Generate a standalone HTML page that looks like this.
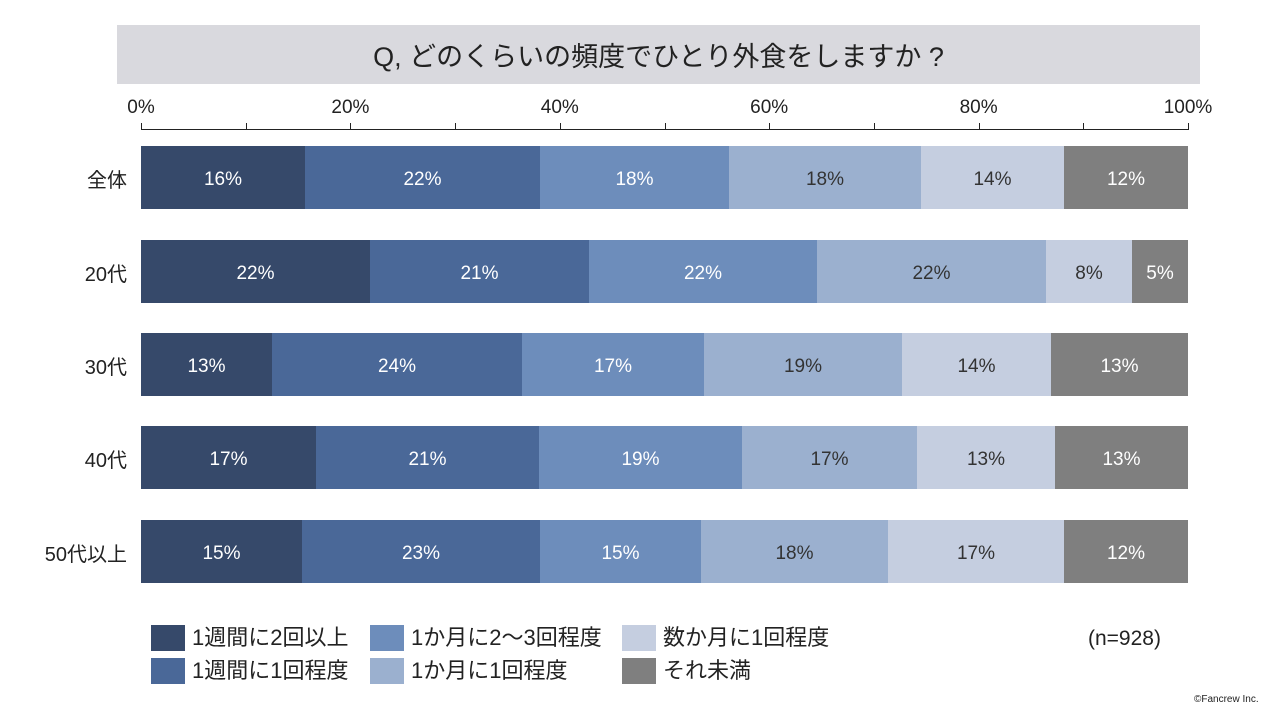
<!DOCTYPE html><html><head><meta charset="utf-8"><style>
body{margin:0;width:1281px;height:720px;background:#fff;position:relative;overflow:hidden;font-family:"Liberation Sans","Noto Sans CJK JP",sans-serif;color:#222}
div{position:absolute}
.s{display:flex;align-items:center;justify-content:center;font-size:19px;height:100%;top:0;padding-top:5px;box-sizing:border-box}
.w{color:#fff}.d{color:#333}
.lab{font-size:20px;text-align:right;width:110px;left:17px}
.tk{top:123px;width:1px;height:7px;background:#222}
.tl{top:97px;font-size:19px;width:80px;text-align:center}
.sq{width:34px;height:26px}
.lt{font-size:22px;line-height:26px}
</style></head><body>
<div style="left:117px;top:25px;width:1083px;height:59px;background:#d9d9de;font-size:27px;display:flex;align-items:center;justify-content:center">Q, どのくらいの頻度でひとり外食をしますか ?</div>
<div style="left:141px;top:129px;width:1047px;height:1px;background:#222"></div>
<div id="ax"></div>
<script>
var ax='';for(var i=0;i<=10;i++){var x=141+i*104.7;ax+='<div class="tk" style="left:'+x+'px"></div>';if(i%2==0)ax+='<div class="tl" style="left:'+(x-40)+'px">'+(i*10)+'%</div>';}
var c=['#36496a','#4a6898','#6d8dbb','#9bb0cf','#c5cee0','#7f7f7f'],tc=['w','w','w','d','d','w'];
var rows=[['全体',146,[141,305,540,729,921,1064,1188],[16,22,18,18,14,12]],['20代',240,[141,370,589,817,1046,1132,1188],[22,21,22,22,8,5]],['30代',333,[141,272,522,704,902,1051,1188],[13,24,17,19,14,13]],['40代',426,[141,316,539,742,917,1055,1188],[17,21,19,17,13,13]],['50代以上',520,[141,302,540,701,888,1064,1188],[15,23,15,18,17,12]]];
rows.forEach(function(r){ax+='<div class="lab" style="top:'+(r[1]+18)+'px">'+r[0]+'</div><div style="left:0;top:'+r[1]+'px;height:63px;width:1281px">';for(var j=0;j<6;j++){ax+='<div class="s '+tc[j]+'" style="left:'+r[2][j]+'px;width:'+(r[2][j+1]-r[2][j])+'px;background:'+c[j]+'">'+r[3][j]+'%</div>';}ax+='</div>';});
var lg=[['1週間に2回以上',151,625],['1週間に1回程度',151,658],['1か月に2～3回程度',370,625],['1か月に1回程度',370,658],['数か月に1回程度',622,625],['それ未満',622,658]];
lg.forEach(function(l,k){ax+='<div class="sq" style="left:'+l[1]+'px;top:'+l[2]+'px;background:'+c[k]+'"></div><div class="lt" style="left:'+(l[1]+41)+'px;top:'+l[2]+'px">'+l[0]+'</div>';});
document.getElementById('ax').outerHTML=ax;
</script>
<div style="left:1088px;top:627px;font-size:21px">(n=928)</div>
<div style="left:1194px;top:694px;font-size:10px">©Fancrew Inc.</div>
</body></html>
